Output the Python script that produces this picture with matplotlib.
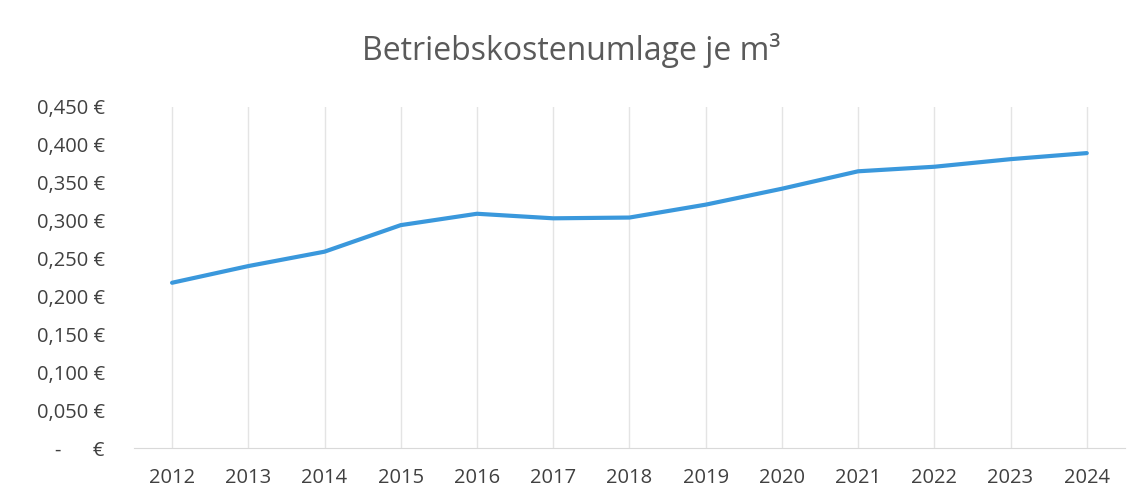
import matplotlib
matplotlib.use('Agg')
import matplotlib.pyplot as plt
from matplotlib.ticker import FuncFormatter

years = ['2012', '2013', '2014', '2015', '2016', '2017', '2018',
         '2019', '2020', '2021', '2022', '2023', '2024']
cost_per_m3 = [0.218, 0.240, 0.259, 0.294, 0.309, 0.303, 0.304,
               0.321, 0.342, 0.365, 0.371, 0.381, 0.389]
y_ticks = [0.0, 0.05, 0.10, 0.15, 0.20, 0.25, 0.30, 0.35, 0.40, 0.45]

plt.rcParams['font.family'] = ['Open Sans', 'DejaVu Sans']

fig = plt.figure(figsize=(11.42, 5.04), dpi=100)
ax = fig.add_axes([0.1173, 0.111, 0.8677, 0.677])

x = list(range(len(years)))
ax.plot(x, cost_per_m3, color='#3a98dc', linewidth=3.0, solid_capstyle='round')

ax.set_xlim(-0.5, len(years) - 0.5)
ax.set_ylim(0, 0.45)
ax.set_xticks(x)
ax.set_xticklabels(years)
ax.set_yticks(y_ticks)


def euro(v, pos):
    if abs(v) < 1e-9:
        return '-      €'
    return ('%.3f €' % v).replace('.', ',')


ax.yaxis.set_major_formatter(FuncFormatter(euro))

# only vertical gridlines, like the spreadsheet chart
ax.grid(axis='x', color='#e4e4e4', linewidth=1)
ax.set_axisbelow(True)
for s in ['top', 'right', 'left']:
    ax.spines[s].set_visible(False)
ax.spines['bottom'].set_color('#d9d9d9')
ax.tick_params(axis='both', length=0, labelsize=14.5, colors='#404040')
ax.tick_params(axis='y', pad=21)
ax.tick_params(axis='x', pad=14)

fig.text(0.5, 0.9, 'Betriebskostenumlage je m³', ha='center', va='center',
         fontsize=23, color='#5a5a5a')

fig.savefig('out.png', dpi=100)
plt.close(fig)
